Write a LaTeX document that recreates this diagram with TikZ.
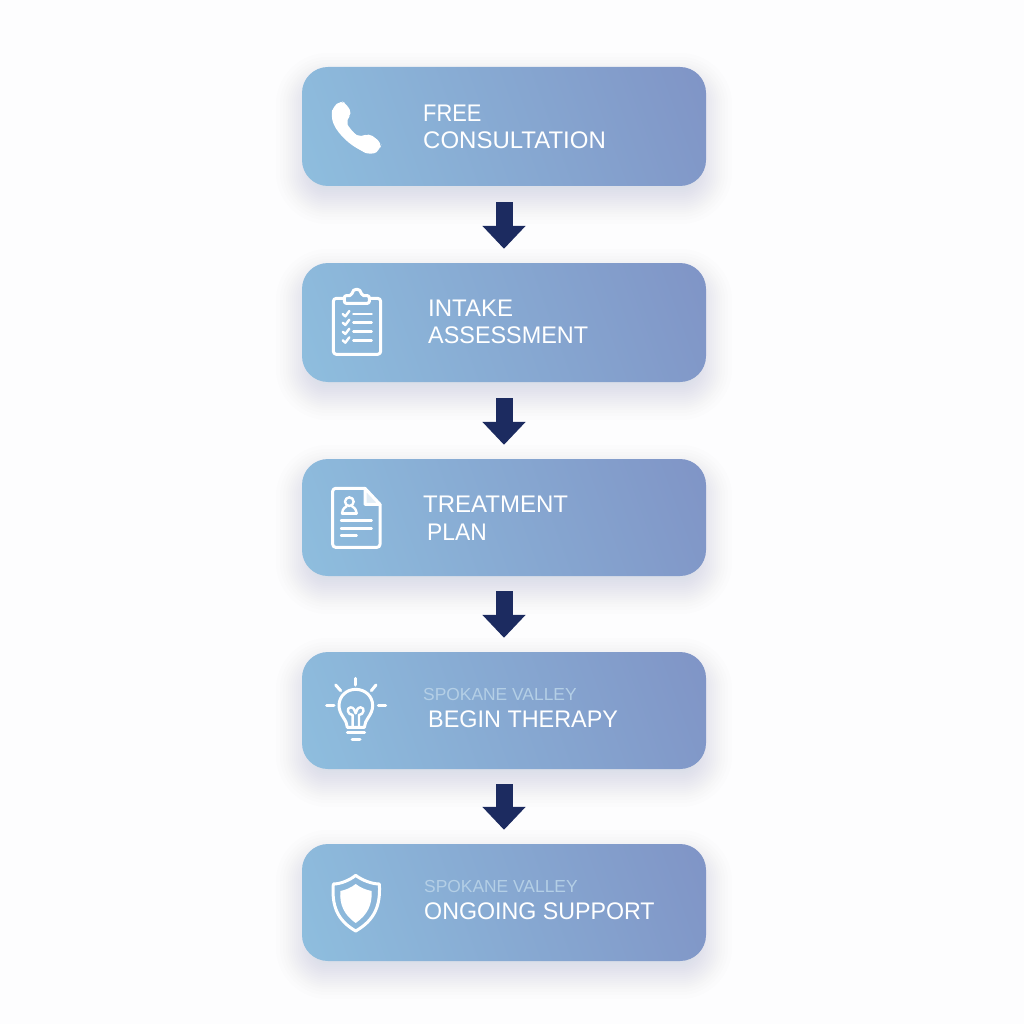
\documentclass[tikz,border=0pt]{standalone}
\usepackage{fontspec}
\setmainfont{Liberation Sans}
\usetikzlibrary{arrows.meta,calc,backgrounds}
\definecolor{bgc}{HTML}{FDFDFE}
\definecolor{gradL}{HTML}{90C3E1}
\definecolor{gradR}{HTML}{7E8FC3}
\definecolor{arrowc}{HTML}{1C2B60}
\definecolor{subc}{HTML}{B4CFE6}
\definecolor{shadowc}{HTML}{5A6478}
\pgfdeclarehorizontalshading{boxgrad}{100bp}{color(0bp)=(gradL); color(10bp)=(gradL); color(90bp)=(gradR); color(100bp)=(gradR)}
\newcommand{\narrowed}[2]{\scalebox{#1}[1]{#2}}
\tikzset{
  x=1pt,y=-1pt,
  stepbox/.style={minimum width=404pt,inner sep=0pt,rounded corners=26pt,shading=boxgrad,shading angle=20},
  mainlabel/.style={anchor=base west,inner sep=0pt,text=white,font=\fontsize{24}{24}\selectfont},
  sublabel/.style={anchor=base west,inner sep=0pt,text=subc,font=\fontsize{17.4}{18}\selectfont},
  flowarrow/.style={arrowc,line width=17pt,-{Triangle[width=42pt,length=23pt]}},
  iconline/.style={draw=white,line width=3pt,line cap=round,line join=round},
  iconthin/.style={draw=white,line width=2.4pt,line cap=round,line join=round},
  zoomed/.style={x=1pt/3,y=-1pt/3}
}
\begin{document}
\begin{tikzpicture}
\useasboundingbox (0,0) rectangle (1024,1024);
% boxes
\node[stepbox,minimum height=119pt] (b1) at (504,126.5) {};
\node[stepbox,minimum height=119pt] (b2) at (504,322.5) {};
\node[stepbox,minimum height=117pt] (b3) at (504,517.5) {};
\node[stepbox,minimum height=117pt] (b4) at (504,710.5) {};
\node[stepbox,minimum height=117pt] (b5) at (504,902.5) {};
% background and soft shadows
\begin{pgfonlayer}{background}
\fill[bgc] (0,0) rectangle (1024,1024);
\foreach \b in {b1,b2,b3,b4,b5}{
  \foreach \d in {26,22,19,16,14,12,10,8,6,4,2,0,-2,-4,-6,-8,-10}{
    \pgfmathsetmacro{\rad}{26+\d}
    \fill[shadowc,opacity=0.008,rounded corners=\rad pt]
      ($(\b.north west)+(-\d,12-\d)$) rectangle ($(\b.south east)+(\d,12+\d)$);
  }
}
\end{pgfonlayer}
% arrows
\draw[flowarrow] ($(b1.south)+(0,16)$) -- ($(b2.north)+(0,-14)$);
\draw[flowarrow] ($(b2.south)+(0,16)$) -- ($(b3.north)+(0,-14)$);
\draw[flowarrow] ($(b3.south)+(0,15)$) -- ($(b4.north)+(0,-14)$);
\draw[flowarrow] ($(b4.south)+(0,15)$) -- ($(b5.north)+(0,-14)$);
% labels
\node[mainlabel] (t1a) at (423,122) {\narrowed{0.91}{FREE}};
\node[mainlabel] (t1b) at (423,149) {CONSULTATION};
\node[mainlabel] (t2a) at (428,316) {INTAKE};
\node[mainlabel] (t2b) at (428,343) {\narrowed{0.975}{ASSESSMENT}};
\node[mainlabel] (t3a) at (423,512) {TREATMENT};
\node[mainlabel] (t3b) at (427,540) {\narrowed{0.95}{PLAN}};
\node[sublabel] (t4a) at (423,700) {SPOKANE VALLEY};
\node[mainlabel] (t4b) at (428,727) {\narrowed{0.975}{BEGIN THERAPY}};
\node[sublabel] (t5a) at (424,892) {SPOKANE VALLEY};
\node[mainlabel] (t5b) at (424,919) {\narrowed{0.967}{ONGOING SUPPORT}};
% phone icon
\begin{scope}[shift={(290,55)},zoomed]
\fill[white,rounded corners=5pt] (152,136) -- (168,146) -- (187,176) -- (168,194)
  .. controls (174,213) and (192,236) .. (214,247) -- (236,234) -- (275,264) -- (270,282)
  .. controls (252,298) and (230,296) .. (212,286)
  .. controls (170,262) and (133,225) .. (124,180) -- (128,158) -- cycle;
\end{scope}
% clipboard icon
\begin{scope}[shift={(310,275)},zoomed]
\draw[iconline,rounded corners=3pt] (103,70) -- (70,70) -- (70,238) -- (212,238) -- (212,70) -- (178,70);
\draw[iconline,rounded corners=2pt] (103,85) -- (178,85) -- (178,62) -- (155,62) .. controls (152,38) and (128,38) .. (125,62) -- (103,62) -- cycle;
\foreach \y in {117,143,170,196}{
  \draw[iconthin] (98,\y) -- (106,\y+7) -- (118,\y-9);
  \draw[iconthin] (130,\y) -- (185,\y);
}
\end{scope}
% document icon
\begin{scope}[shift={(310,475)},zoomed]
\draw[iconline,rounded corners=3pt] (165,40) -- (68,40) -- (68,217) -- (210,217) -- (210,88);
\draw[iconline,fill=white,fill opacity=0.75] (165,40) -- (210,88) -- (165,88) -- cycle;
\draw[iconthin] (118,80) circle[radius=13];
\draw[iconthin] (96,115) .. controls (98,98) and (108,96) .. (110,94);
\draw[iconthin] (140,115) .. controls (138,98) and (128,96) .. (126,94);
\draw[iconthin] (96,115) -- (140,115);
\draw[iconthin] (93,136) -- (185,136);
\draw[iconthin] (93,160) -- (185,160);
\draw[iconthin] (93,182) -- (140,182);
\end{scope}
% bulb icon
\begin{scope}[shift={(310,670)},zoomed]
\draw[iconline] (137,25) -- (137,45);
\draw[iconline] (77,45) -- (92,62);
\draw[iconline] (198,45) -- (184,62);
\draw[iconline] (50,107) -- (72,107);
\draw[iconline] (205,107) -- (227,107);
\draw[iconline] (112,172) .. controls (112,150) and (87,135) .. (87,107)
  .. controls (87,78) and (110,58) .. (137,58)
  .. controls (165,58) and (188,78) .. (188,107)
  .. controls (188,135) and (163,150) .. (163,172) -- cycle;
\draw[iconthin] (128,170) -- (128,135) .. controls (112,135) and (108,112) .. (122,112) .. controls (132,112) and (134,122) .. (137,130)
  .. controls (140,122) and (142,112) .. (152,112) .. controls (166,112) and (162,135) .. (147,135) -- (147,170);
\draw[iconline] (112,186) -- (164,186);
\draw[iconline] (126,208) -- (150,208);
\end{scope}
% shield icon
\begin{scope}[shift={(310,865)},zoomed]
\draw[iconline] (137,31) .. controls (155,45) and (185,57) .. (208,57)
  .. controls (212,120) and (195,165) .. (137,198)
  .. controls (80,165) and (65,120) .. (70,57)
  .. controls (92,57) and (120,45) .. (137,31) -- cycle;
\fill[white] (137,57) .. controls (150,67) and (168,75) .. (185,78)
  .. controls (187,120) and (172,150) .. (137,174)
  .. controls (103,150) and (88,120) .. (91,78)
  .. controls (107,75) and (125,67) .. (137,57) -- cycle;
\end{scope}
\end{tikzpicture}
\end{document}
